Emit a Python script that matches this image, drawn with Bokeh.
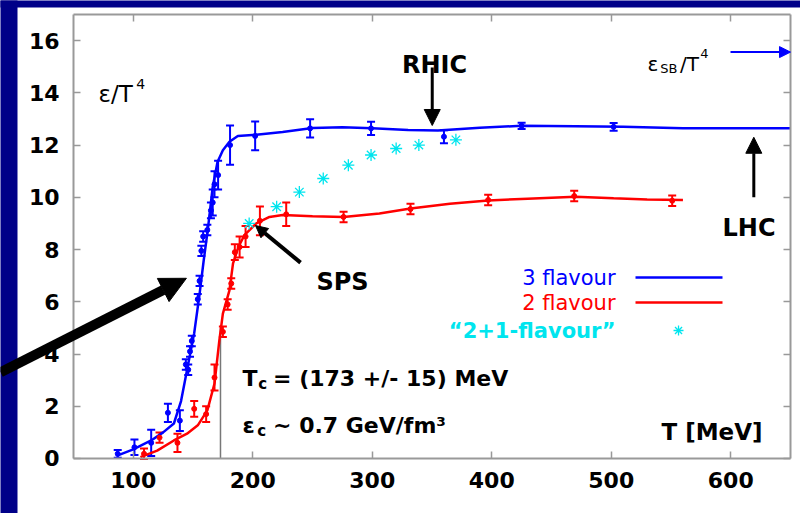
from bokeh.plotting import figure
from bokeh.models import (Range1d, FixedTicker, LinearAxis, Arrow, NormalHead, Whisker,
                          TeeHead, ColumnDataSource, Label, BoxAnnotation, CustomJSTickFormatter)
from bokeh.embed import file_html
from bokeh.resources import INLINE

FONT = "DejaVu Sans"
NAVY = "#000088"
BLUE = "#0000FF"
RED = "#FF0000"
CYAN = "#00E5EE"
GRAY = "#999999"

# ---------------- data ----------------
x_ticks = [100, 200, 300, 400, 500, 600]
y_ticks = [0, 2, 4, 6, 8, 10, 12, 14, 16]

# 3 flavour lattice points (T [MeV], eps/T^4, error)
t3 = [87, 101, 115, 129, 139, 144, 146, 147.5, 149, 154, 155.5, 157, 158.5, 162, 165,
      166.5, 168, 171, 181, 202, 248, 299, 360, 425, 502]
e3 = [0.18, 0.43, 0.6, 1.75, 1.45, 3.6, 3.4, 4.1, 4.5, 6.1, 6.8, 7.95, 8.5, 8.75, 9.5,
      9.8, 10.5, 10.85, 12.0, 12.35, 12.64, 12.64, 12.32, 12.74, 12.70]
err3 = [0.15, 0.3, 0.5, 0.35, 0.4, 0.2, 0.2, 0.2, 0.2, 0.2, 0.2, 0.2, 0.2, 0.2, 0.3,
        0.5, 0.5, 0.55, 0.75, 0.55, 0.35, 0.25, 0.25, 0.12, 0.15]

# 3 flavour curve
tc3 = [86, 100, 115, 125, 134, 140, 145.5, 151, 155.5, 159, 162.5, 166.5, 170.5, 175,
       180.5, 187.5, 203, 225, 250, 275, 300, 330, 355, 390, 425, 470, 510, 560, 600, 650]
ec3 = [0.1, 0.35, 0.69, 1.0, 1.34, 2.2, 3.5, 4.8, 6.3, 7.6, 8.8, 10.4, 11.35, 11.8,
       12.13, 12.35, 12.4, 12.5, 12.65, 12.68, 12.64, 12.58, 12.56, 12.66, 12.74, 12.72,
       12.70, 12.64, 12.64, 12.64]

# 2 flavour lattice points
t2 = [109, 122, 137, 151, 161, 168, 175, 179, 182, 185, 189, 194, 206, 228, 276, 332,
      397, 469, 551]
e2 = [0.18, 0.8, 0.6, 1.9, 1.7, 3.1, 4.85, 5.9, 6.7, 7.9, 8.1, 8.5, 9.1, 9.35, 9.25,
      9.55, 9.9, 10.05, 9.87]
err2 = [0.2, 0.2, 0.35, 0.3, 0.3, 0.5, 0.2, 0.2, 0.2, 0.3, 0.4, 0.4, 0.55, 0.45, 0.2,
        0.2, 0.2, 0.2, 0.2]

# 2 flavour curve
tc2 = [106, 120, 134, 145, 154, 162, 168, 172, 175, 180.5, 183.5, 188, 193, 203, 214,
       225, 250, 276, 306, 332, 365, 397, 430, 470, 502, 530, 560]
ec2 = [0.05, 0.3, 0.69, 0.95, 1.27, 1.84, 2.87, 4.5, 5.55, 6.44, 7.47, 8.1, 8.55, 9.0,
       9.25, 9.32, 9.28, 9.25, 9.38, 9.57, 9.75, 9.88, 9.95, 10.02, 9.96, 9.92, 9.9]

# "2+1-flavour" points
t21 = [197, 220, 239, 259, 280, 299, 320, 339, 370]
e21 = [9.0, 9.64, 10.2, 10.72, 11.23, 11.62, 11.87, 12.0, 12.2]

tc_value = 173
tc_line_top = 5.0

X_LO, X_HI = 50, 650
Y_LO, Y_HI = 0, 17

# ---------------- figure ----------------
# the frame covers the whole page; axes are pinned at the plot box edges
p = figure(frame_width=800, frame_height=513, min_border=0,
           x_range=Range1d(-11.09, 658.37), y_range=Range1d(-2.106, 17.536),
           output_backend="svg", toolbar_location=None)
p.background_fill_color = "white"
p.border_fill_color = "white"
p.outline_line_color = None
p.grid.visible = False


def style_axis(ax, ticks, bounds, labels=True):
    ax.ticker = FixedTicker(ticks=ticks)
    ax.bounds = bounds
    ax.major_tick_in = 7
    ax.major_tick_out = 0
    ax.minor_tick_line_color = None
    ax.axis_line_color = GRAY
    ax.axis_line_width = 2
    ax.major_tick_line_color = GRAY
    ax.major_tick_line_width = 1.5
    if labels:
        ax.major_label_text_font = FONT
        ax.major_label_text_font_style = "bold"
        ax.major_label_text_font_size = "22px"
        ax.major_label_text_color = "black"
        ax.major_label_standoff = 14
    else:
        ax.formatter = CustomJSTickFormatter(code="return ''")
        ax.major_label_standoff = 0


# navy page border strips (drawn first, under everything)
p.add_layout(BoxAnnotation(left=-100, right=3.14, bottom=-100, top=100, fill_color=NAVY,
                           fill_alpha=1, line_color=None, level="underlay"))
p.add_layout(BoxAnnotation(left=-100, right=1000, bottom=17.268, top=100, fill_color=NAVY,
                           fill_alpha=1, line_color=None, level="underlay"))

xa = p.xaxis[0]
ya = p.yaxis[0]
xa.fixed_location = Y_LO
ya.fixed_location = X_LO
style_axis(xa, x_ticks, (X_LO, X_HI))
style_axis(ya, y_ticks, (Y_LO, Y_HI))

top = LinearAxis(fixed_location=Y_HI)
right = LinearAxis(fixed_location=X_HI)
style_axis(top, x_ticks, (X_LO, X_HI), labels=False)
style_axis(right, y_ticks, (Y_LO, Y_HI), labels=False)
p.add_layout(top, "above")
p.add_layout(right, "right")

# Tc vertical line
p.segment(x0=[tc_value], y0=[0], x1=[tc_value], y1=[tc_line_top], line_color="#777777",
          line_width=1.5)

# curves
p.line(tc3, ec3, line_color=BLUE, line_width=2.5)
p.line(tc2, ec2, line_color=RED, line_width=2.5)

# error bars + points
src3 = ColumnDataSource(dict(t=t3, e=e3, lo=[a - b for a, b in zip(e3, err3)],
                             hi=[a + b for a, b in zip(e3, err3)]))
src2 = ColumnDataSource(dict(t=t2, e=e2, lo=[a - b for a, b in zip(e2, err2)],
                             hi=[a + b for a, b in zip(e2, err2)]))
for src, col in ((src3, BLUE), (src2, RED)):
    p.add_layout(Whisker(source=src, base="t", lower="lo", upper="hi", dimension="height",
                         line_color=col, line_width=2,
                         lower_head=TeeHead(size=8, line_color=col, line_width=2),
                         upper_head=TeeHead(size=8, line_color=col, line_width=2)))
    p.scatter("t", "e", source=src, size=5, color=col)

p.scatter(t21, e21, marker="asterisk", size=12, line_color=CYAN, line_width=1.3)

# legend (gnuplot style: text then sample)
leg_y = [6.93, 5.97, 4.90]
p.segment(x0=[520.3, 520.3], y0=leg_y[:2], x1=[593.1, 593.1], y1=leg_y[:2],
          line_color=[BLUE, RED], line_width=2.5)
p.scatter([556.3], [leg_y[2]], marker="asterisk", size=10, line_color=CYAN, line_width=1.3)


def lab(x, y, text, size, color="black", style="normal", align="left", baseline="alphabetic"):
    p.add_layout(Label(x=x, y=y, text=text, text_font=FONT, text_font_size=f"{size}px",
                       text_color=color, text_font_style=style, text_align=align,
                       text_baseline=baseline, level="overlay"))


lab(503.6, leg_y[0], "3 flavour", 21, BLUE, align="right", baseline="middle")
lab(503.6, leg_y[1], "2 flavour", 21, RED, align="right", baseline="middle")
lab(503.6, leg_y[2], "\u201c2+1-flavour\u201d", 21, CYAN, style="bold", align="right",
    baseline="middle")

# y label eps/T^4
lab(71.0, 13.97, "\u03b5/T", 23)
lab(102.5, 14.35, "4", 14)

# eps_SB/T^4
lab(530.3, 15.12, "\u03b5", 20)
lab(541.0, 14.93, "SB", 13)
lab(557.5, 15.12, "/T", 20)
lab(574.5, 15.5, "4", 13)
p.add_layout(Arrow(x_start=599.8, y_start=15.56, x_end=650, y_end=15.56, line_color=BLUE,
                   line_width=2, end=NormalHead(size=11, fill_color=BLUE, line_color=BLUE)))

# RHIC
lab(352.1, 15.05, "RHIC", 24, style="bold", align="center")
p.add_layout(Arrow(x_start=350.2, y_start=14.97, x_end=350.2, y_end=12.75, line_color="black",
                   line_width=3, end=NormalHead(size=16, fill_color="black", line_color="black")))

# LHC
lab(615.3, 8.81, "LHC", 24, style="bold", align="center")
p.add_layout(Arrow(x_start=619.3, y_start=10.0, x_end=619.3, y_end=12.3, line_color="black",
                   line_width=3, end=NormalHead(size=16, fill_color="black", line_color="black")))

# SPS
lab(275.1, 6.74, "SPS", 24, style="bold", align="center")
p.add_layout(Arrow(x_start=240.0, y_start=7.5, x_end=202.3, y_end=8.92, line_color="black",
                   line_width=4, end=NormalHead(size=12, fill_color="black", line_color="black")))

# Tc text
lab(191.4, 3.06, "T", 22, style="bold")
lab(204.6, 2.85, "c", 15, style="bold")
lab(217.0, 3.06, "= (173 +/- 15) MeV", 22, style="bold")
lab(191.4, 1.26, "\u03b5", 22, style="bold")
lab(203.8, 1.05, "c", 15, style="bold")
lab(217.0, 1.26, "~ 0.7 GeV/fm\u00b3", 22, style="bold")

# T [MeV]
lab(584.3, 1.0, "T [MeV]", 23, style="bold", align="center")

# big arrow (starts at the page's left edge)
p.add_layout(Arrow(x_start=-11.09, y_start=3.3, x_end=144.5, y_end=6.9, line_color="black",
                   line_width=10, level="overlay",
                   end=NormalHead(size=26, fill_color="black", line_color="black")))

open("out.html", "w").write(file_html(p, INLINE))
